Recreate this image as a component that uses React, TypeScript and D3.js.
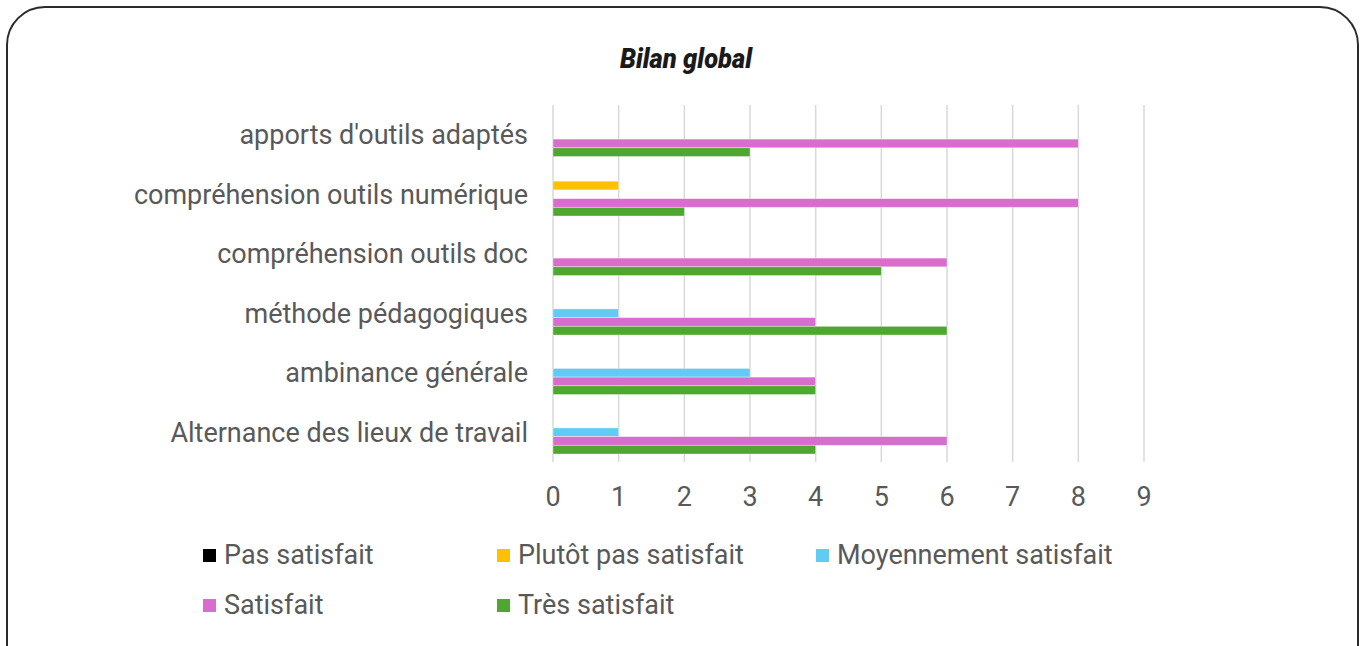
import React from 'react';
import * as d3 from 'd3';

// categories top to bottom
const categories = [
  "apports d'outils adaptés",
  'compréhension outils numérique',
  'compréhension outils doc',
  'méthode pédagogiques',
  'ambinance générale',
  'Alternance des lieux de travail',
];
const series = ['Pas satisfait', 'Plutôt pas satisfait', 'Moyennement satisfait', 'Satisfait', 'Très satisfait'];
const colors = ['#000000', '#FFC000', '#61CBF3', '#D86DCD', '#4EA72E'];

const pasSatisfait = [0, 0, 0, 0, 0, 0];
const plutotPas = [0, 1, 0, 0, 0, 0];
const moyennement = [0, 0, 0, 1, 3, 1];
const satisfait = [8, 8, 6, 4, 4, 6];
const tresSatisfait = [3, 2, 5, 6, 4, 4];
const values = [pasSatisfait, plutotPas, moyennement, satisfait, tresSatisfait];

const xTicks = [0, 1, 2, 3, 4, 5, 6, 7, 8, 9];

const W = 1365;
const H = 646;
const font = 'Roboto, "Noto Sans", sans-serif';
const textColor = '#595959';

export default function App() {
  const x = d3.scaleLinear().domain([0, 9]).range([553, 1144]);
  const y = d3.scaleBand<string>().domain(categories).range([105, 462]).paddingInner(0.268).paddingOuter(0.134);
  const sub = d3.scaleBand<string>().domain(series).range([0, y.bandwidth()]);

  const legendPos = [
    { x: 203, y: 555 },
    { x: 497, y: 555 },
    { x: 816, y: 555 },
    { x: 203, y: 605 },
    { x: 497, y: 605 },
  ];

  return (
    <svg width={W} height={H} style={{ display: 'block', position: 'absolute', left: 0, top: 0 }} fontFamily={font}>
      <rect x={0} y={0} width={W} height={H} fill="#fff" />
      <rect x={7} y={7} width={1351} height={700} rx={38} ry={38} fill="#fff" stroke="#2b2b2b" strokeWidth={2} />

      <text x={686} y={68} textAnchor="middle" fontSize={27} fontWeight={900} fontStyle="italic" fill="#1a1a1a"
        textLength={132} lengthAdjust="spacingAndGlyphs">
        Bilan global
      </text>

      {/* grid */}
      {xTicks.map((t) => (
        <line key={t} x1={x(t)} x2={x(t)} y1={105} y2={462} stroke="#d9d9d9" strokeWidth={1.5} />
      ))}

      {/* bars */}
      {categories.map((c, ci) =>
        series.map((s, si) => {
          const v = values[si][ci];
          if (!v) return null;
          return (
            <rect
              key={c + s}
              x={x(0)}
              y={(y(c) ?? 0) + (sub(s) ?? 0)}
              width={x(v) - x(0)}
              height={sub.bandwidth()}
              fill={colors[si]}
              stroke="#ffffff"
              strokeOpacity={0.5}
              strokeWidth={0.75}
            />
          );
        })
      )}

      {/* category labels */}
      {categories.map((c) => (
        <text
          key={c}
          x={528}
          y={(y(c) ?? 0) + y.bandwidth() / 2}
          dy="0.35em"
          textAnchor="end"
          fontSize={27}
          fill={textColor}
        >
          {c}
        </text>
      ))}

      {/* x tick labels */}
      {xTicks.map((t) => (
        <text key={t} x={x(t)} y={506} textAnchor="middle" fontSize={27} fill={textColor}>
          {t}
        </text>
      ))}

      {/* legend */}
      {series.map((s, i) => (
        <g key={s} transform={`translate(${legendPos[i].x},${legendPos[i].y})`}>
          <rect x={0} y={-6} width={13} height={13} fill={colors[i]} />
          <text x={21} y={0} dy="0.35em" fontSize={27} fill={textColor}>
            {s}
          </text>
        </g>
      ))}
    </svg>
  );
}
